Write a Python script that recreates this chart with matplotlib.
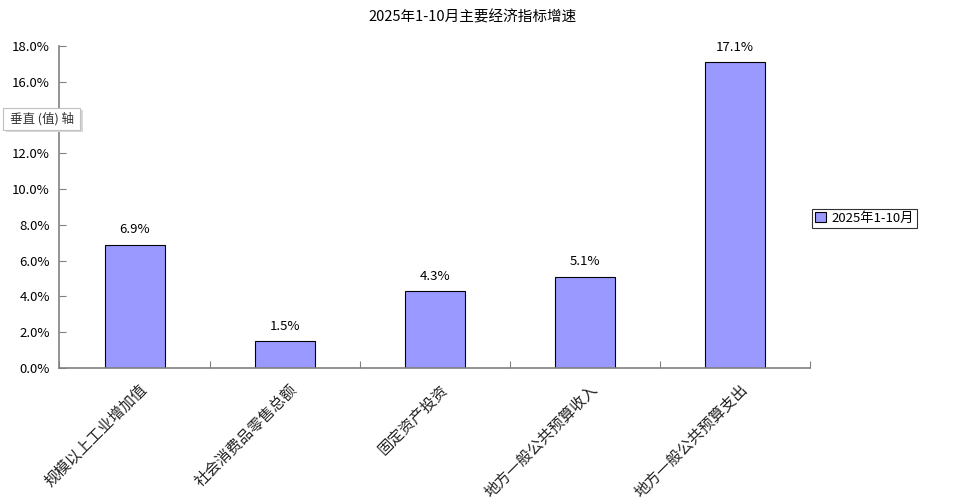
import matplotlib
matplotlib.use("Agg")
import matplotlib.pyplot as plt
from matplotlib.ticker import FixedLocator, NullFormatter, FixedFormatter
from matplotlib.patches import Rectangle
from matplotlib.transforms import ScaledTranslation
import numpy as np

plt.rcParams['font.family'] = ['Noto Sans CJK SC', 'DejaVu Sans']

title = "2025年1-10月主要经济指标增速"
categories = ["规模以上工业增加值", "社会消费品零售总额", "固定资产投资",
              "地方一般公共预算收入", "地方一般公共预算支出"]
values = [6.9, 1.5, 4.3, 5.1, 17.1]
series_name = "2025年1-10月"
yticks = [0, 2, 4, 6, 8, 10, 12, 14, 16, 18]
ytick_labels = ["0.0%", "2.0%", "4.0%", "6.0%", "8.0%", "10.0%", "12.0%", "14.0%", "16.0%", "18.0%"]

fig = plt.figure(figsize=(9.62, 5.04), dpi=100)
ax = fig.add_axes([59.5/962, 1-368/504, (810-59.5)/962, (368-46)/504])

n = len(categories)
x = np.arange(n)
bars = ax.bar(x, values, width=0.4, color="#9999FF", edgecolor="black", linewidth=0.8,
              label=series_name, zorder=2)
for xi, v in zip(x, values):
    ax.annotate(f"{v:.1f}%", (xi, v), xytext=(0, 6), textcoords="offset points",
                ha="center", va="bottom", fontsize=9.5)

ax.set_xlim(-0.5, n - 0.5)
ax.set_ylim(0, 18)
ax.set_yticks(yticks)
ax.set_yticklabels(ytick_labels, fontsize=9.5)
ax.tick_params(axis="y", direction="in", length=5, color="#808080", pad=7)

ax.xaxis.set_major_locator(FixedLocator(np.arange(n + 1) - 0.5))
ax.xaxis.set_major_formatter(NullFormatter())
ax.xaxis.set_minor_locator(FixedLocator(x))
ax.xaxis.set_minor_formatter(FixedFormatter(categories))
ax.tick_params(axis="x", which="major", direction="in", length=5, color="#808080")
ax.tick_params(axis="x", which="minor", length=0, pad=10, labelsize=11)

for s in ["top", "right"]:
    ax.spines[s].set_visible(False)
for s in ["left", "bottom"]:
    ax.spines[s].set_color("#808080")
    ax.spines[s].set_linewidth(1.2)

fig.canvas.draw()
shift = ScaledTranslation(10/100, -5/100, fig.dpi_scale_trans)
for lab in ax.xaxis.get_minorticklabels():
    lab.set_rotation(45)
    lab.set_ha("right")
    lab.set_va("center")
    lab.set_rotation_mode("anchor")
    lab.set_color("#222222")
    lab.set_transform(lab.get_transform() + shift)
# the "14.0%" label is covered by the axis tooltip in the reference
for lab, t in zip(ax.yaxis.get_majorticklabels(), yticks):
    if t == 14:
        lab.set_visible(False)

fig.text(473/962, 1-17/504, title, ha="center", va="center", fontsize=10.5)

leg = fig.legend(handles=[bars], labels=[series_name], loc="center left",
                 bbox_to_anchor=(812/962, 1-218.5/504), fontsize=9.5,
                 frameon=True, fancybox=False, edgecolor="black",
                 handlelength=0.8, handleheight=0.8, handletextpad=0.4,
                 borderpad=0.25, borderaxespad=0)
leg.get_frame().set_linewidth(0.8)

# tooltip box with shadow
fig.patches.append(Rectangle((6/962, 1-132/504), 77/962, 22/504, transform=fig.transFigure,
                             facecolor="#D8D8D8", edgecolor="none", zorder=9))
fig.patches.append(Rectangle((3/962, 1-129.5/504), 77/962, 22/504, transform=fig.transFigure,
                             facecolor="white", edgecolor="#C0C0C0", linewidth=0.8, zorder=10))
fig.text(10/962, 1-119/504, "垂直 (值) 轴", ha="left", va="center", fontsize=9,
         color="#333333", zorder=11)

fig.savefig("out.png", dpi=100, facecolor="white")
